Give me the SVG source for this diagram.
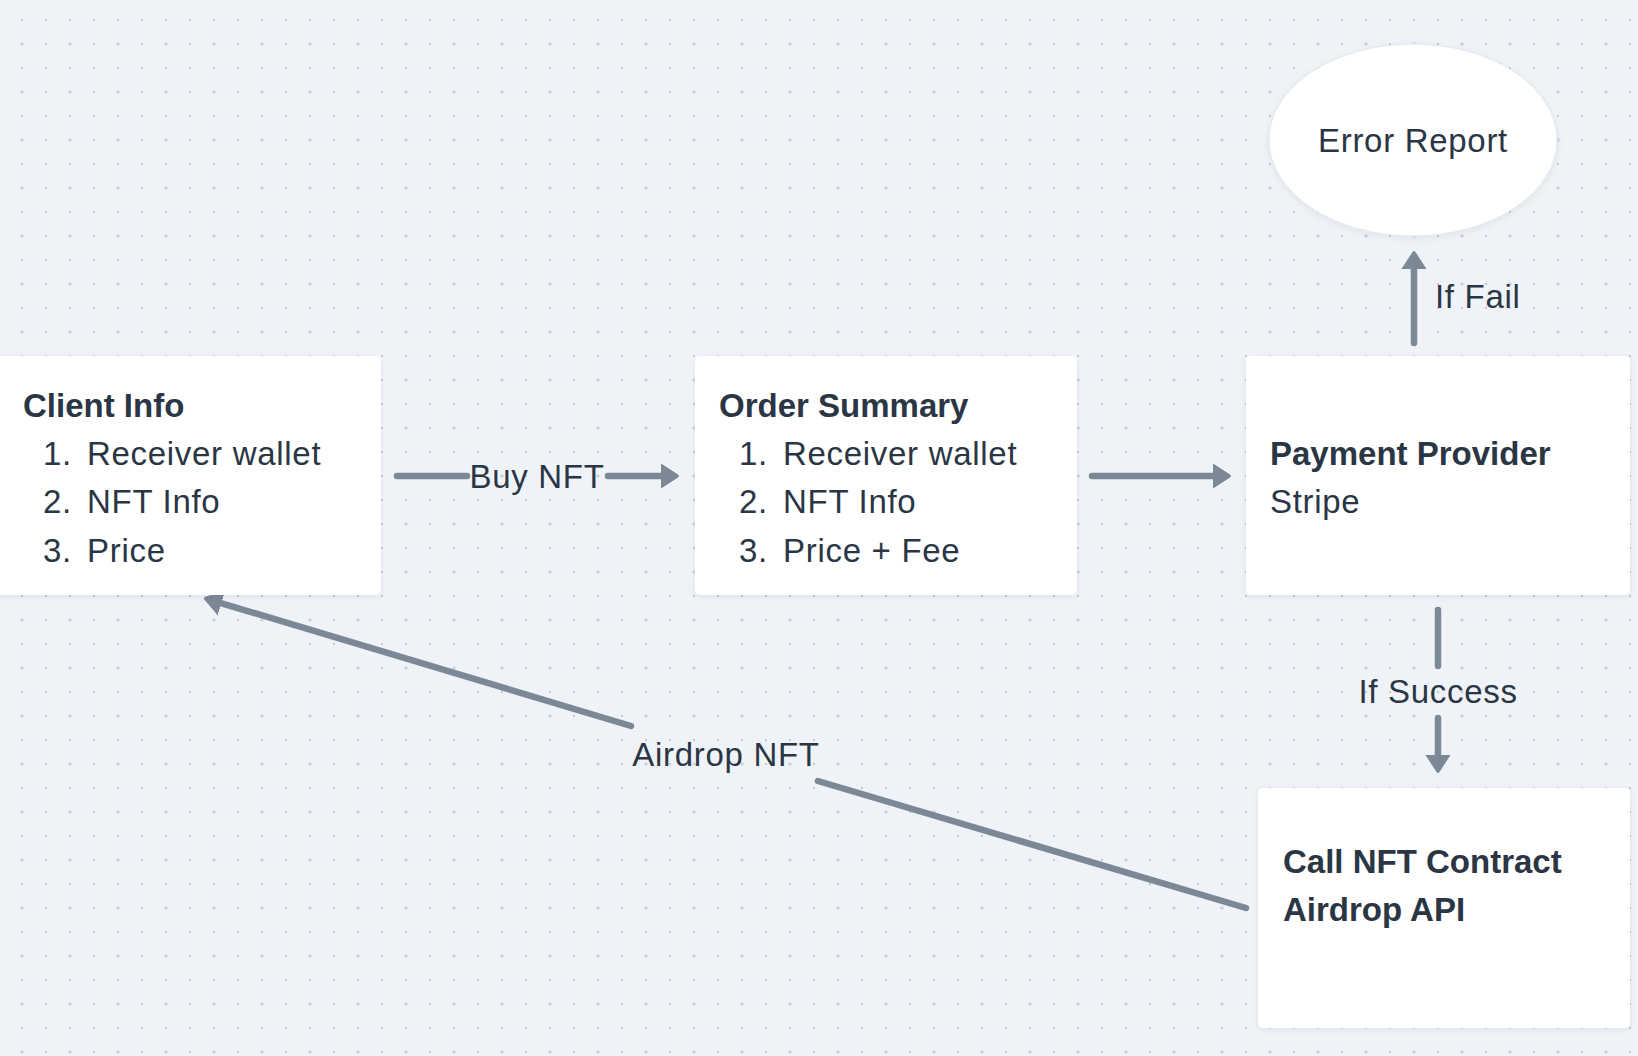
<svg xmlns="http://www.w3.org/2000/svg" width="1638" height="1056" viewBox="0 0 1638 1056">
  <style>
    .t { font-family: "Liberation Sans", Arial, sans-serif; font-size: 33px; fill: #2b3645; letter-spacing: 0.7px; }
    .b { font-weight: bold; letter-spacing: 0; }
    .node { fill: #ffffff; filter: url(#sh); }
    .conn { stroke: #7c8896; stroke-width: 6.5; stroke-linecap: round; fill: none; }
    .arr { marker-end: url(#ah); }
  </style>
  <defs>
    <pattern id="grid" patternUnits="userSpaceOnUse" x="10" y="8" width="48" height="48">
      <rect x="11" y="11" width="2" height="2" fill="#c3cad4"/>
      <rect x="35" y="11" width="2" height="2" fill="#c3cad4"/>
      <rect x="35" y="35" width="2" height="2" fill="#c3cad4"/>
      <circle cx="12" cy="36" r="1.8" fill="#cbd3dd"/>
    </pattern>
    <filter id="sh" x="-10%" y="-10%" width="120%" height="130%">
      <feDropShadow dx="0" dy="2" stdDeviation="3" flood-color="#1c2a3a" flood-opacity="0.07"/>
    </filter>
    <marker id="ah" markerUnits="userSpaceOnUse" viewBox="0 0 18 26" refX="3" refY="13" markerWidth="18" markerHeight="26" orient="auto">
      <path d="M0,1 L17,12 Q18,13 17,14 L0,25 Z" fill="#7c8896" stroke="#7c8896" stroke-width="1" stroke-linejoin="round"/>
    </marker>
  </defs>

  <rect width="1638" height="1056" fill="#eff3f7"/>
  <rect width="1638" height="1056" fill="url(#grid)"/>

  <g id="connectors">
    <line class="conn" x1="397" y1="476" x2="467" y2="476"/>
    <line class="conn arr" x1="608" y1="476" x2="664" y2="476"/>
    <text class="t" x="537" y="488" text-anchor="middle">Buy NFT</text>

    <line class="conn arr" x1="1092" y1="476" x2="1216" y2="476"/>

    <line class="conn arr" x1="1414" y1="343" x2="1414" y2="266"/>
    <text class="t" x="1435" y="308">If Fail</text>

    <line class="conn" x1="1438" y1="610" x2="1438" y2="666"/>
    <line class="conn arr" x1="1438" y1="718" x2="1438" y2="758"/>
    <text class="t" x="1438" y="703" text-anchor="middle">If Success</text>

    <line class="conn" x1="1246" y1="908" x2="818" y2="781"/>
    <line class="conn arr" x1="631" y1="726" x2="218.4" y2="602.3"/>
    <text class="t" x="726" y="766" text-anchor="middle">Airdrop NFT</text>
  </g>

  <g id="client-info">
    <rect class="node" x="-6" y="356" width="387" height="239" rx="5"/>
    <text class="t b" x="23" y="417">Client Info</text>
    <text class="t" x="43" y="465">1.</text><text class="t" x="87" y="465">Receiver wallet</text>
    <text class="t" x="43" y="513">2.</text><text class="t" x="87" y="513">NFT Info</text>
    <text class="t" x="43" y="562">3.</text><text class="t" x="87" y="562">Price</text>
  </g>

  <g id="order-summary">
    <rect class="node" x="695" y="356" width="382" height="239" rx="5"/>
    <text class="t b" x="719" y="417">Order Summary</text>
    <text class="t" x="739" y="465">1.</text><text class="t" x="783" y="465">Receiver wallet</text>
    <text class="t" x="739" y="513">2.</text><text class="t" x="783" y="513">NFT Info</text>
    <text class="t" x="739" y="562">3.</text><text class="t" x="783" y="562">Price + Fee</text>
  </g>

  <g id="payment-provider">
    <rect class="node" x="1246" y="356" width="384" height="239" rx="5"/>
    <text class="t b" x="1270" y="465">Payment Provider</text>
    <text class="t" x="1270" y="513">Stripe</text>
  </g>

  <g id="error-report">
    <ellipse class="node" cx="1413" cy="140" rx="144" ry="96" stroke="#e2e6eb" stroke-width="1"/>
    <text class="t" x="1413" y="152" text-anchor="middle">Error Report</text>
  </g>

  <g id="call-nft-contract">
    <rect class="node" x="1258" y="788" width="372" height="240" rx="5"/>
    <text class="t b" x="1283" y="873">Call NFT Contract</text>
    <text class="t b" x="1283" y="921">Airdrop API</text>
  </g>
</svg>
